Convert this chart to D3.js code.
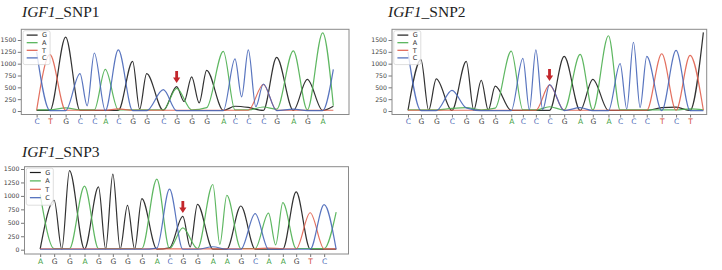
<!DOCTYPE html>
<html><head><meta charset="utf-8">
<script src="https://cdn.jsdelivr.net/npm/d3@7"></script>
<style>body{margin:0;background:#fff}svg{display:block}</style>
</head><body>
<svg id="chart" width="722" height="270"></svg>
<script>
// ---------------- DATA ----------------
const channels = ["G", "A", "T", "C"];
const yTicks = [0, 250, 500, 750, 1000, 1250, 1500];

// Panel 1: IGF1_SNP1
const snp1Gene = "IGF1", snp1Label = "_SNP1";
const snp1Bases  = ["C","T","G","C","C","A","C","G","G","C","G","G","G","A","C","C","C","G","A","G","A"];
const snp1Loc    = [110,150,197,240,283,316,355,398,440,490,530,575,620,670,705,745,790,830,880,922,968];
const snp1Height = [1250,1190,1560,790,1225,880,1290,1050,790,450,515,720,860,1260,1100,1290,570,1135,1270,670,1650];
const snp1Minor  = [["A",10,480],["T",16,560],["A",2,65],["G",14,100],["G",15,75],["A",12,70],["A",16,85],["T",6,45],["A",17,40],["C",18,40]];
const snp1Valley = [[3,110],[7,40],[10,200],[11,170],[14,300],[15,90]];
const snp1Tail   = [["C",1000,880],["G",1000,100],["A",1000,110]];
const snp1End = 1000, snp1Snp = 10, snp1Frame = [64, 1047];

// Panel 2: IGF1_SNP2
const snp2Gene = "IGF1", snp2Label = "_SNP2";
const snp2Bases  = ["C","G","G","C","G","G","G","A","C","C","C","G","A","G","A","C","C","C","T","C","T"];
const snp2Loc    = [143,182,228,275,318,363,405,453,488,527,568,612,660,698,745,780,820,860,905,948,990];
const snp2Height = [1250,1085,677,435,1050,650,525,1265,1113,1293,560,1154,1196,670,1590,1002,1452,1154,1210,1279,1175];
const snp2Minor  = [["T",10,545],["A",3,55],["A",4,70],["C",4,65],["A",10,90],["G",11,50],["C",12,70],["G",18,70],["G",19,80],["A",20,45],["A",6,60]];
const snp2Valley = [[1,15],[4,20],[5,20],[8,25],[9,30],[15,45],[16,75]];
const snp2Tail   = [["G",1030,1660]];
const snp2End = 1030, snp2Snp = 10, snp2Frame = [95, 1040];

// Panel 3: IGF1_SNP3
const snp3Gene = "IGF1", snp3Label = "_SNP3";
const snp3Bases  = ["A","G","G","A","G","G","G","G","A","C","G","G","A","A","G","C","A","A","G","T","C"];
const snp3Loc    = [120,162,208,253,295,338,382,425,470,508,548,592,638,680,722,765,805,848,888,930,972];
const snp3Height = [1030,919,1469,1181,1169,1406,825,950,1312,1125,619,844,1212,1012,812,669,681,875,1075,687,837];
const snp3Minor  = [["A",10,406],["C",12,55],["T",16,30],["G",9,35],["C",8,30]];
const snp3Valley = [[1,10],[4,15],[5,15],[6,15],[10,50],[12,100],[16,90]];
const snp3Tail   = [["A",1008,700]];
const snp3End = 1008, snp3Snp = 10, snp3Frame = [73, 1045];

// ---------------- STYLE / LAYOUT ----------------
const traceColor  = {G:"#1c1c1c", A:"#4caf50", T:"#e0604e", C:"#4766b8"};
const letterColor = {G:"#3a3a3a", A:"#3e9e3e", T:"#d24a3c", C:"#4f6db8"};
const baseline    = {G:12, A:22, T:16, C:8};

const panels = [
  {gene:snp1Gene,label:snp1Label,bases:snp1Bases,loc:snp1Loc,height:snp1Height,minor:snp1Minor,valley:snp1Valley,tail:snp1Tail,end:snp1End,snp:snp1Snp,frameDom:snp1Frame,
   box:{l:21.3,r:349,t:29.3,b:114.5}, y0:111, y1500:40, title:[22,17], legRow:7.6},
  {gene:snp2Gene,label:snp2Label,bases:snp2Bases,loc:snp2Loc,height:snp2Height,minor:snp2Minor,valley:snp2Valley,tail:snp2Tail,end:snp2End,snp:snp2Snp,frameDom:snp2Frame,
   box:{l:392,r:706.7,t:29.3,b:114.5}, y0:111, y1500:40, title:[388,17], legRow:7.6},
  {gene:snp3Gene,label:snp3Label,bases:snp3Bases,loc:snp3Loc,height:snp3Height,minor:snp3Minor,valley:snp3Valley,tail:snp3Tail,end:snp3End,snp:snp3Snp,frameDom:snp3Frame,
   box:{l:24.5,r:348.5,t:166.7,b:254}, y0:249.7, y1500:169, title:[22,157], legRow:8.4}
];

const svg = d3.select("#chart");

function channelPoints(p, ch) {
  const pts = [];
  const n = p.bases.length;
  const minorMap = new Map(p.minor.filter(m => m[0] === ch).map(m => [m[1], m[2]]));
  const valleyMap = new Map(p.valley.map(v => [v[0], v[1]]));
  for (let i = 0; i < n; i++) {
    const v = p.bases[i] === ch ? p.height[i] : (minorMap.has(i) ? minorMap.get(i) : baseline[ch]);
    pts.push([p.loc[i], v]);
    if (i < n - 1 && p.bases[i] === ch && p.bases[i + 1] === ch) {
      pts.push([(p.loc[i] + p.loc[i + 1]) / 2, valleyMap.has(i) ? valleyMap.get(i) : baseline[ch]]);
    }
  }
  const t = p.tail.find(d => d[0] === ch);
  pts.push([p.end, t ? t[2] : baseline[ch]]);
  return pts;
}

panels.forEach(p => {
  const g = svg.append("g");
  const x = d3.scaleLinear().domain(p.frameDom).range([p.box.l, p.box.r]);
  const y = d3.scaleLinear().domain([0, 1500]).range([p.y0, p.y1500]);

  // title
  const tt = g.append("text").attr("x", p.title[0]).attr("y", p.title[1])
    .attr("font-family", "'Liberation Serif','Times New Roman',serif").attr("font-size", 15.5).attr("fill", "#222");
  tt.append("tspan").attr("font-style", "italic").text(p.gene);
  tt.append("tspan").text(p.label);

  // y axis
  const yAxis = d3.axisLeft(y).tickValues(yTicks).tickSize(3.5).tickPadding(1.5).tickFormat(d3.format("d"));
  const ya = g.append("g").attr("transform", `translate(${p.box.l},0)`).call(yAxis);
  ya.select(".domain").remove();
  ya.selectAll("line").attr("stroke", "#555").attr("stroke-width", 0.8);
  ya.selectAll("text").attr("font-family", "'DejaVu Sans',sans-serif").attr("font-size", 6.2).attr("fill", "#444");

  // bottom axis with base letters
  const xAxis = d3.axisBottom(x).tickValues(p.loc).tickSize(3).tickPadding(1.5).tickFormat((d, i) => p.bases[i]);
  const xa = g.append("g").attr("transform", `translate(0,${p.box.b})`).call(xAxis);
  xa.select(".domain").remove();
  xa.selectAll("line").attr("stroke", "#555").attr("stroke-width", 0.8);
  xa.selectAll("text").attr("font-family", "'DejaVu Sans',sans-serif").attr("font-size", 7.5)
    .attr("fill", (d, i) => letterColor[p.bases[i]]);

  // traces
  const line = d3.line().x(d => x(d[0])).y(d => y(d[1])).curve(d3.curveMonotoneX);
  channels.forEach(ch => {
    g.append("path").datum(channelPoints(p, ch))
      .attr("fill", "none").attr("stroke", traceColor[ch]).attr("stroke-width", 1.2)
      .attr("stroke-opacity", 0.9).attr("d", line);
  });

  // frame
  g.append("rect").attr("x", p.box.l).attr("y", p.box.t)
    .attr("width", p.box.r - p.box.l).attr("height", p.box.b - p.box.t)
    .attr("fill", "none").attr("stroke", "#8a8a8a").attr("stroke-width", 1);

  // legend
  const lg = g.append("g").attr("transform", `translate(${p.box.l + 1.8},${p.box.t + 1.4})`);
  lg.append("rect").attr("width", 27).attr("height", p.legRow * 4 + 3.5).attr("rx", 2)
    .attr("fill", "#fff").attr("fill-opacity", 0.8).attr("stroke", "#d0d0d0").attr("stroke-width", 0.7);
  channels.forEach((ch, i) => {
    const yy = 4.4 + i * p.legRow;
    lg.append("line").attr("x1", 3.6).attr("x2", 14.5).attr("y1", yy).attr("y2", yy)
      .attr("stroke", traceColor[ch]).attr("stroke-width", 1.2);
    lg.append("text").attr("x", 19).attr("y", yy + 2.3).text(ch)
      .attr("font-family", "'DejaVu Sans',sans-serif").attr("font-size", 6.5).attr("fill", "#333");
  });

  // red arrow over SNP peak
  const ax = x(p.loc[p.snp]);
  const tip = y(p.height[p.snp]) - 3.5;
  const L = 12, hw = 3.6, sw = 1.4, hl = 5.5;
  g.append("path")
    .attr("d", `M${ax - sw},${tip - L} L${ax + sw},${tip - L} L${ax + sw},${tip - hl} L${ax + hw},${tip - hl} L${ax},${tip} L${ax - hw},${tip - hl} L${ax - sw},${tip - hl} Z`)
    .attr("fill", "#c3262b");
});
</script>
</body></html>
